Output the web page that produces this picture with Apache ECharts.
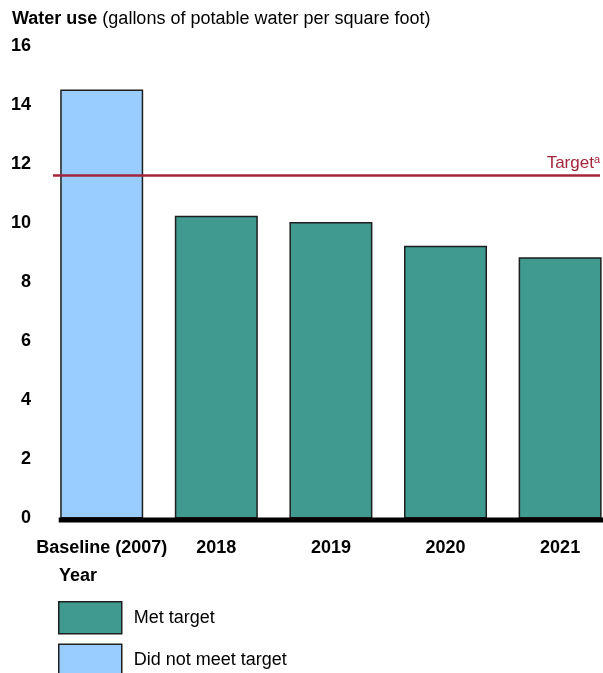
<!DOCTYPE html>
<html>
<head>
<meta charset="utf-8">
<script src="https://cdn.jsdelivr.net/npm/echarts@6/dist/echarts.min.js"></script>
<style>
  html, body { margin: 0; padding: 0; background: #ffffff; }
  #chart { width: 603px; height: 673px; }
</style>
</head>
<body>
<div id="chart"></div>
<script>
// Potable water use per square foot, baseline year and recent years
const categories = ['Baseline (2007)', '2018', '2019', '2020', '2021'];
const waterUse = [14.53, 10.25, 10.04, 9.24, 8.85];
const targetValue = 11.62;
const yTicks = [0, 2, 4, 6, 8, 10, 12, 14, 16];
const legendNames = ['Met target', 'Did not meet target'];

const FONT = '"Liberation Sans", Arial, sans-serif';
const MET_COLOR = '#409a90';
const MISS_COLOR = '#99ccff';
const TARGET_COLOR = '#a4243b';
const BAR_WIDTH = 83;

// Split each year into the "met" or "did not meet" series by comparing with the target
const metData = waterUse.map((v, i) => [i, v <= targetValue ? v : null]);
const missData = waterUse.map((v, i) => [i, v > targetValue ? v : null]);

const chart = echarts.init(document.getElementById('chart'), null, { renderer: 'canvas' });

const option = {
  animation: false,
  backgroundColor: '#ffffff',
  textStyle: { fontFamily: FONT },
  title: [
    {
      left: 12, top: 9, padding: 0,
      text: '{b|Water use} {n|(gallons of potable water per square foot)}',
      textStyle: {
        rich: {
          b: { fontFamily: FONT, fontSize: 18, fontWeight: 'bold', color: '#000', lineHeight: 20 },
          n: { fontFamily: FONT, fontSize: 18, fontWeight: 'normal', color: '#000', lineHeight: 20 }
        }
      }
    },
    {
      left: 59, top: 566, padding: 0,
      text: 'Year',
      textStyle: { fontFamily: FONT, fontSize: 18, fontWeight: 'bold', color: '#000', lineHeight: 20 }
    }
  ],
  legend: {
    orient: 'vertical',
    left: 58, top: 601,
    width: 300, height: 120,
    padding: 0,
    itemWidth: 63, itemHeight: 32, itemGap: 9,
    icon: 'rect',
    data: legendNames,
    itemStyle: { borderColor: '#1e1e1e', borderWidth: 1.5 },
    textStyle: { fontFamily: FONT, fontSize: 18, color: '#000', padding: [0, 0, 0, 7] },
    selectedMode: false
  },
  grid: { left: 53, right: 3, top: 46, bottom: 154.5, containLabel: false },
  xAxis: {
    type: 'value',
    min: -0.425, max: 4.348,
    axisLine: { show: false },
    axisTick: { show: false },
    splitLine: { show: false },
    axisLabel: {
      customValues: categories.map((c, i) => i),
      formatter: v => categories[Math.round(v)] ?? '',
      fontFamily: FONT, fontSize: 18, fontWeight: 'bold', color: '#000',
      margin: 21, hideOverlap: false
    }
  },
  yAxis: {
    type: 'value',
    min: yTicks[0], max: yTicks[yTicks.length - 1], interval: 2,
    axisLine: { show: false },
    axisTick: { show: false },
    splitLine: { show: false },
    axisLabel: {
      fontFamily: FONT, fontSize: 18, fontWeight: 'bold', color: '#000', margin: 22
    }
  },
  series: [
    {
      name: legendNames[0],
      type: 'bar',
      data: metData,
      barWidth: BAR_WIDTH,
      barGap: '-100%',
      itemStyle: { color: MET_COLOR, borderColor: '#1e1e1e', borderWidth: 1.5 },
      z: 2,
      markLine: {
        silent: true,
        symbol: 'none',
        lineStyle: { color: TARGET_COLOR, width: 2.5, type: 'solid' },
        label: {
          show: true,
          position: 'insideEndTop',
          distance: [0, 4],
          formatter: 'Target{s|a}',
          fontFamily: FONT, fontSize: 17, color: TARGET_COLOR,
          rich: { s: { fontFamily: FONT, fontSize: 11, color: TARGET_COLOR, verticalAlign: 'top', padding: [0, 0, 6, 0] } }
        },
        data: [{ yAxis: targetValue }],
        z: 5
      }
    },
    {
      name: legendNames[1],
      type: 'bar',
      data: missData,
      barWidth: BAR_WIDTH,
      barGap: '-100%',
      itemStyle: { color: MISS_COLOR, borderColor: '#1e1e1e', borderWidth: 1.5 },
      z: 2
    }
  ]
};

chart.setOption(option);

// Heavy baseline along the bottom, from the first bar's left edge to the right border
const x0 = chart.convertToPixel({ xAxisIndex: 0 }, 0) - BAR_WIDTH / 2 - 1.5;
const y0 = chart.convertToPixel({ yAxisIndex: 0 }, 0);
chart.setOption({
  graphic: [{
    type: 'rect',
    shape: { x: x0, y: y0 - 1, width: chart.getWidth() - x0, height: 5 },
    style: { fill: '#000' },
    z: 10
  }]
});
</script>
</body>
</html>
